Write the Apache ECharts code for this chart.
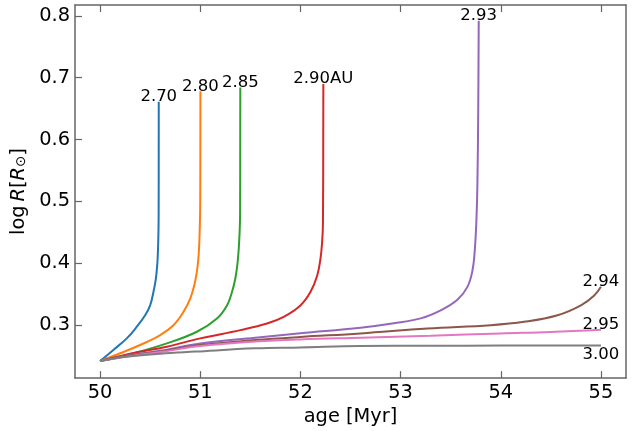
<!DOCTYPE html>
<html>
<head>
<meta charset="utf-8">
<script src="https://cdn.jsdelivr.net/npm/echarts@6/dist/echarts.min.js"></script>
<style>
html,body{margin:0;padding:0;background:#fff;}
#chart{width:643px;height:431px;}
</style>
</head>
<body>
<div id="chart"></div>
<script>
// ---- data ----
const xTicks = [50, 51, 52, 53, 54, 55];
const yTicks = [0.3, 0.4, 0.5, 0.6, 0.7, 0.8];

const labels270 = "2.70";
const age270 = [50, 50.133, 50.267, 50.367, 50.45, 50.5, 50.533, 50.557, 50.572, 50.579, 50.583, 50.585, 50.586];
const logR270 = [0.242, 0.260, 0.2787, 0.2975, 0.316, 0.332, 0.3536, 0.375, 0.40, 0.425, 0.45, 0.48, 0.661];

const labels280 = "2.80";
const age280 = [50, 50.2, 50.4, 50.6, 50.733, 50.833, 50.9, 50.94, 50.965, 50.98, 50.99, 50.996, 51.0, 51.002];
const logR280 = [0.242, 0.2546, 0.268, 0.284, 0.300, 0.3215, 0.343, 0.364, 0.385, 0.405, 0.43, 0.46, 0.50, 0.678];

const labels285 = "2.85";
const age285 = [50, 50.333, 50.667, 50.967, 51.167, 51.267, 51.317, 51.35, 51.372, 51.385, 51.393, 51.398, 51.40];
const logR285 = [0.242, 0.2546, 0.2706, 0.2894, 0.3108, 0.332, 0.3536, 0.375, 0.40, 0.425, 0.45, 0.48, 0.684];

const labels290 = "2.90AU";
const age290 = [50, 50.3, 50.667, 51.0, 51.4, 51.667, 51.833, 52.0, 52.1, 52.167, 52.2, 52.217, 52.225, 52.229];
const logR290 = [0.242, 0.254, 0.2653, 0.2787, 0.292, 0.3027, 0.3135, 0.332, 0.3536, 0.380, 0.407, 0.435, 0.465, 0.690];

const labels293 = "2.93";
const age293 = [50, 50.3, 50.617, 51.0, 51.55, 52.0, 52.6, 52.933, 53.2, 53.4, 53.567, 53.667, 53.717, 53.74, 53.757, 53.767, 53.775, 53.78];
const logR293 = [0.242, 0.252, 0.259, 0.2706, 0.2798, 0.287, 0.2958, 0.3030, 0.311, 0.324, 0.341, 0.362, 0.388, 0.42, 0.47, 0.53, 0.65, 0.792];

const labels294 = "2.94";
const age294 = [50, 50.3, 50.617, 51.0, 51.55, 52.0, 52.6, 53.267, 53.9, 54.233, 54.567, 54.8, 54.933, 55.0];
const logR294 = [0.242, 0.251, 0.258, 0.268, 0.276, 0.281, 0.2867, 0.2947, 0.300, 0.3054, 0.316, 0.332, 0.348, 0.362];

const labels295 = "2.95";
const age295 = [50, 50.3, 50.617, 51.0, 51.55, 52.0, 52.6, 53.3, 54.0, 54.5, 55.0];
const logR295 = [0.242, 0.250, 0.257, 0.2663, 0.2735, 0.277, 0.2798, 0.283, 0.2867, 0.289, 0.2926];

const labels300 = "3.00";
const age300 = [50, 50.1, 50.283, 50.6, 50.95, 51.55, 52.0, 52.6, 53.3, 54.0, 55.0];
const logR300 = [0.242, 0.245, 0.2493, 0.254, 0.2573, 0.2626, 0.264, 0.2663, 0.2668, 0.267, 0.267];

// ---- chart ----
const FONT = 'DejaVu Sans';
const colors = ['#1f77b4', '#ff7f0e', '#2ca02c', '#d62728', '#9467bd', '#8c564b', '#e377c2', '#7f7f7f'];
const curves = [
  [labels270, age270, logR270, 'top'],
  [labels280, age280, logR280, 'top'],
  [labels285, age285, logR285, 'top'],
  [labels290, age290, logR290, 'top'],
  [labels293, age293, logR293, 'top'],
  [labels294, age294, logR294, 'top'],
  [labels295, age295, logR295, 'top'],
  [labels300, age300, logR300, 'bottom']
];
const zip = (a, b) => a.map((v, i) => [v, b[i]]);

const series = [];
curves.forEach((c, i) => {
  series.push({
    type: 'line', name: c[0], data: zip(c[1], c[2]),
    showSymbol: false, symbol: 'none', smooth: 0.4,
    lineStyle: { color: colors[i], width: 2 }, z: 2 + i * 0.01,
    silent: true, animation: false
  });
});
series.push({
  type: 'scatter', symbolSize: 1, itemStyle: { color: 'transparent' },
  animation: false, silent: true, z: 10,
  data: curves.map(c => ({
    value: [c[1][c[1].length - 1], c[2][c[2].length - 1]],
    label: {
      show: true, formatter: c[0], position: c[3], distance: c[3] === 'top' ? -4 : 0,
      color: '#000', opacity: 1, fontSize: 16.5, fontFamily: FONT
    }
  }))
});

const axisColor = '#666';
const tickLabel = { color: '#000', fontSize: 19.4, fontFamily: FONT };

const option = {
  backgroundColor: '#fff',
  animation: false,
  grid: { left: 75, top: 5, width: 551, height: 375, containLabel: false },
  xAxis: [{
    type: 'value', min: 49.75, max: 55.25, position: 'bottom',
    name: 'age [Myr]', nameLocation: 'middle', nameGap: 17,
    nameTextStyle: { color: '#000', fontSize: 19.4, fontFamily: FONT, verticalAlign: 'top' },
    axisLine: { show: true, onZero: false, lineStyle: { color: axisColor, width: 1.5 } },
    axisTick: { show: true, inside: true, length: 7, customValues: xTicks, lineStyle: { color: axisColor, width: 1.2 } },
    axisLabel: Object.assign({ margin: 5, customValues: xTicks, formatter: v => String(v) }, tickLabel),
    splitLine: { show: false }
  }, {
    type: 'value', min: 49.75, max: 55.25, position: 'top',
    axisLine: { show: true, onZero: false, lineStyle: { color: axisColor, width: 1.5 } },
    axisTick: { show: true, inside: true, length: 7, customValues: xTicks, lineStyle: { color: axisColor, width: 1.2 } },
    axisLabel: { show: false },
    splitLine: { show: false }
  }],
  yAxis: [{
    type: 'value', min: 0.2145, max: 0.8175, position: 'left',
    name: '{n|log\u2009}{i|R}{n|[}{i|R}{s|⊙}{n|]}', nameLocation: 'middle', nameGap: 40, nameRotate: 90,
    nameTextStyle: {
      color: '#000', fontSize: 19.4, fontFamily: FONT,
      rich: {
        n: { color: '#000', fontSize: 19.4, fontFamily: FONT },
        i: { color: '#000', fontSize: 19.4, fontFamily: FONT, fontStyle: 'italic' },
        s: { color: '#000', fontSize: 13.5, fontFamily: FONT, verticalAlign: 'bottom' }
      }
    },
    axisLine: { show: true, onZero: false, lineStyle: { color: axisColor, width: 1.5 } },
    axisTick: { show: true, inside: true, length: 7, customValues: yTicks, lineStyle: { color: axisColor, width: 1.2 } },
    axisLabel: Object.assign({ margin: 5, customValues: yTicks, formatter: v => v.toFixed(1) }, tickLabel),
    splitLine: { show: false }
  }, {
    type: 'value', min: 0.2145, max: 0.8175, position: 'right',
    axisLine: { show: true, onZero: false, lineStyle: { color: axisColor, width: 1.5 } },
    axisTick: { show: false }, axisLabel: { show: false }, splitLine: { show: false }
  }],
  series: series
};

const chart = echarts.init(document.getElementById('chart'), null, { renderer: 'canvas' });
chart.setOption(option);
</script>
</body>
</html>
